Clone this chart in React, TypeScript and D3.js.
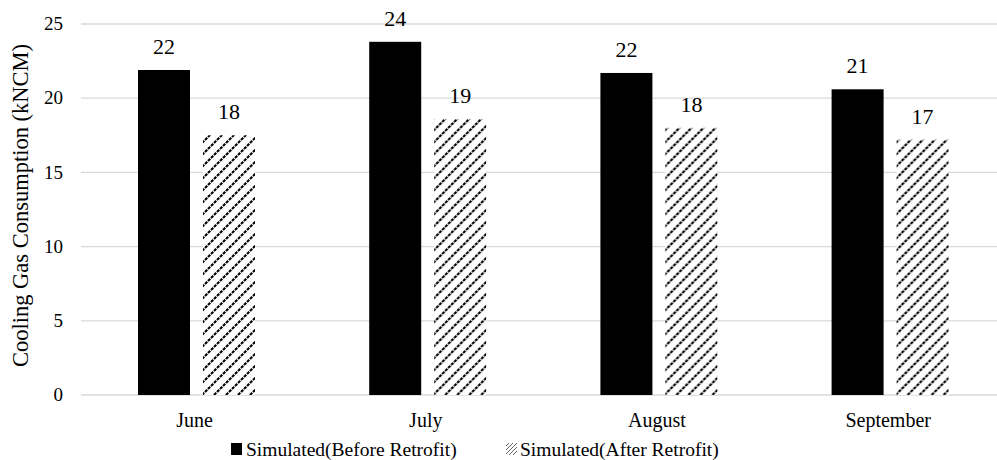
import React from "react";
import * as d3 from "d3";

const months = ["June", "July", "August", "September"];
const seriesNames = ["Simulated(Before Retrofit)", "Simulated(After Retrofit)"];
const beforeRetrofit = [21.9, 23.8, 21.7, 20.6];
const afterRetrofit = [17.5, 18.6, 18.0, 17.2];
const yTicks = [0, 5, 10, 15, 20, 25];

const W = 997;
const H = 460;
const FONT = "'Liberation Serif', 'Times New Roman', serif";

export default function App() {
  const x0 = d3.scaleBand<string>().domain(months).range([81, 1005.8]).paddingInner(0).paddingOuter(0);
  const x1 = d3
    .scaleBand<string>()
    .domain(seriesNames)
    .range([57, 57 + 117])
    .paddingInner(13 / 65)
    .paddingOuter(0);
  const y = d3.scaleLinear().domain([0, 25]).range([395, 24]);
  const values = [beforeRetrofit, afterRetrofit];
  const fills = ["#000000", "url(#hatch)"];
  const fmt = d3.format(".0f");

  return (
    <svg
      width={W}
      height={H}
      style={{ position: "absolute", left: 0, top: 0, background: "#fff" }}
      fontFamily={FONT}
    >
      <defs>
        <pattern id="hatch" patternUnits="userSpaceOnUse" width={12} height={12}>
          <rect width={12} height={12} fill="#fff" />
          <path
            d="M-2,14 L14,-2 M-8,8 L8,-8 M4,20 L20,4"
            stroke="#000"
            strokeWidth={2.1}
            strokeDasharray="3.2 1.04"
          />
        </pattern>
        <pattern id="hatchSmall" patternUnits="userSpaceOnUse" width={4} height={4}>
          <rect width={4} height={4} fill="#fff" />
          <path d="M-1,5 L5,-1" stroke="#666" strokeWidth={1} />
        </pattern>
      </defs>

      {/* gridlines */}
      {yTicks.map((t) => (
        <line key={t} x1={81} x2={W} y1={y(t)} y2={y(t)} stroke="#d9d9d9" strokeWidth={1.3} />
      ))}
      {/* y tick labels */}
      {yTicks.map((t) => (
        <text key={"l" + t} x={63} y={y(t)} dy="0.33em" textAnchor="end" fontSize={19} fill="#000">
          {t}
        </text>
      ))}
      {/* y axis title */}
      <text
        transform={`translate(28,${(y(0) + y(25)) / 2 - 4}) rotate(-90)`}
        textAnchor="middle"
        fontSize={22.5}
        fill="#000"
      >
        Cooling Gas Consumption (kNCM)
      </text>

      {/* bars and value labels */}
      {months.map((m, i) => (
        <g key={m} transform={`translate(${x0(m)},0)`}>
          {seriesNames.map((s, k) => {
            const v = values[k][i];
            const bx = x1(s) as number;
            return (
              <g key={s}>
                <rect x={bx} y={y(v)} width={x1.bandwidth()} height={y(0) - y(v)} fill={fills[k]} />
                <text
                  x={bx + x1.bandwidth() / 2}
                  y={y(v) - 16}
                  textAnchor="middle"
                  fontSize={22}
                  fill="#000"
                >
                  {fmt(v)}
                </text>
              </g>
            );
          })}
          <text x={x0.bandwidth() / 2 - 2} y={427} textAnchor="middle" fontSize={20} fill="#000">
            {m}
          </text>
        </g>
      ))}

      {/* legend */}
      <g>
        <rect x={231} y={443} width={11} height={12} fill="#000" />
        <text x={246} y={455.5} fontSize={19.5} fill="#000">
          {seriesNames[0]}
        </text>
        <rect x={506} y={443} width={11} height={12} fill="url(#hatchSmall)" />
        <text x={520} y={455.5} fontSize={19.5} fill="#000">
          {seriesNames[1]}
        </text>
      </g>
    </svg>
  );
}
